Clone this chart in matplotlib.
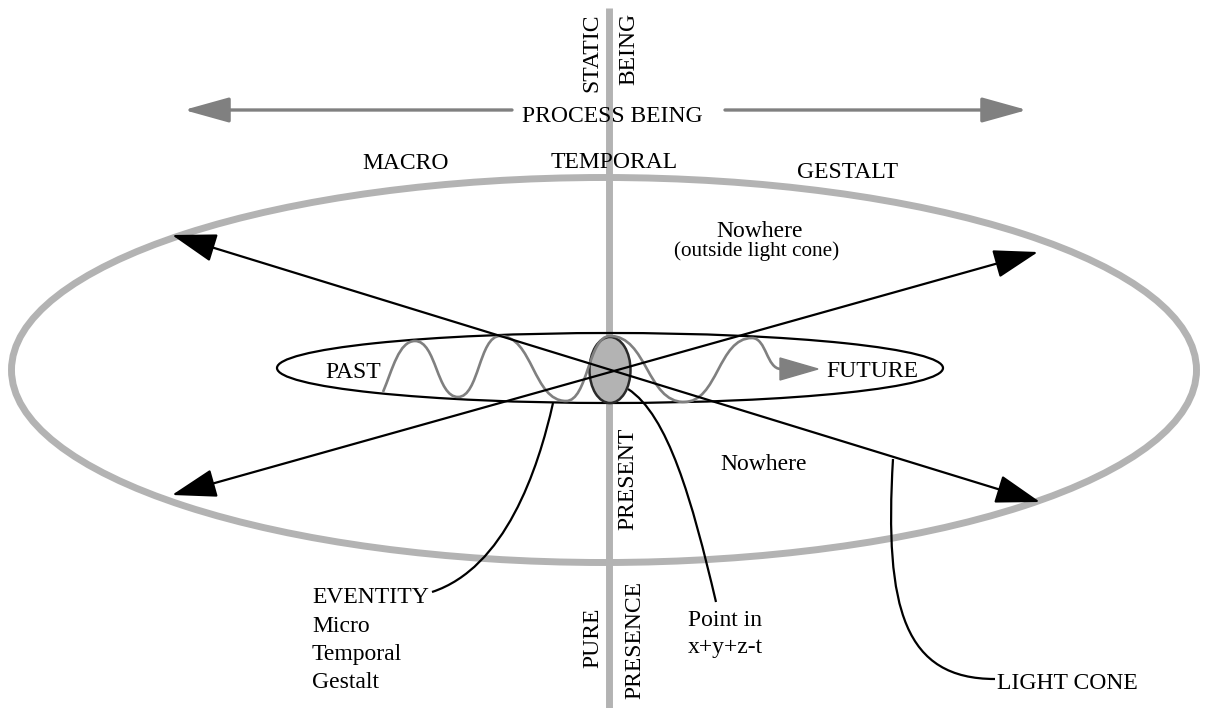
import matplotlib
matplotlib.use("Agg")
import matplotlib.pyplot as plt
from matplotlib.patches import Ellipse, FancyArrowPatch, Polygon, PathPatch
from matplotlib.path import Path

plt.rcParams['font.family'] = ['Liberation Serif', 'DejaVu Serif']

# ---- diagram geometry (pixel space, y downward) ----
axis_x = 609
axis_y = [8, 708]
big_ellipse = dict(center=(604, 370), width=1185, height=385)
small_ellipse = dict(center=(610, 368), width=666, height=70)
present_blob = dict(center=(610, 370), width=41, height=66)

process_arrow_left = [(512, 110), (184, 110)]
process_arrow_right = [(725, 110), (1027, 110)]

cone_arrow_1 = [(172, 235), (1040, 502)]
cone_arrow_2 = [(172, 495), (1038, 252)]

# wave extremum points (x, y) between PAST and FUTURE
wave_start = (383, 392)
wave_x = [415, 458, 500, 566, 610, 684, 752, 781]
wave_y = [341, 397, 336, 401, 336, 402, 338, 369]
wave_head = [(780, 358), (780, 380), (818, 369)]

leader_eventity = [(432, 592), (505, 568), (538, 470), (553, 403)]
leader_point = [(628, 389), (668, 415), (692, 500), (716, 602)]
leader_cone = [(893, 459), (884, 610), (905, 679), (995, 679)]

# text, x, y(baseline or centre), rotation, ha, size
labels = [
    ("STATIC", 592, 53, 90, "center", 17),
    ("BEING", 629, 49, 90, "center", 17),
    ("PROCESS BEING", 612, 122, 0, "center", 17),
    ("MACRO", 406, 169, 0, "center", 17),
    ("TEMPORAL", 614, 168, 0, "center", 17),
    ("GESTALT", 848, 178, 0, "center", 17),
    ("Nowhere", 760, 237, 0, "center", 17),
    ("(outside light cone)", 757, 256, 0, "center", 15.3),
    ("PAST", 353, 378, 0, "center", 17),
    ("FUTURE", 872, 377, 0, "center", 17),
    ("PRESENT", 628, 479, 90, "center", 17),
    ("Nowhere", 764, 470, 0, "center", 17),
    ("EVENTITY", 312, 603, 0, "left", 17),
    ("Micro", 312, 632, 0, "left", 17),
    ("Temporal", 312, 660, 0, "left", 17),
    ("Gestalt", 312, 688, 0, "left", 17),
    ("PURE", 593, 638, 90, "center", 17),
    ("PRESENCE", 635, 640, 90, "center", 17),
    ("Point in", 688, 626, 0, "left", 17),
    ("x+y+z-t", 688, 653, 0, "left", 17),
    ("LIGHT CONE", 997, 689, 0, "left", 17),
]

LIGHT = "#b3b3b3"
MID = "#808080"

fig = plt.figure(figsize=(12.07, 7.08), dpi=100)
ax = fig.add_axes([0, 0, 1, 1])
ax.set_xlim(0, 1207)
ax.set_ylim(708, 0)
ax.axis("off")

# vertical axis
ax.plot([axis_x, axis_x], axis_y, color=LIGHT, lw=5, solid_capstyle="butt", zorder=1)

# big light-cone ellipse
ax.add_patch(Ellipse(big_ellipse["center"], big_ellipse["width"], big_ellipse["height"],
                     fill=False, edgecolor=LIGHT, lw=5, zorder=2))

# small ellipse
ax.add_patch(Ellipse(small_ellipse["center"], small_ellipse["width"], small_ellipse["height"],
                     fill=False, edgecolor="black", lw=1.6, zorder=3))

# process being arrows
for seg in (process_arrow_left, process_arrow_right):
    ax.add_patch(FancyArrowPatch(seg[0], seg[1], arrowstyle="-|>,head_length=28,head_width=7.8",
                                 mutation_scale=1, color=MID, lw=2.4, shrinkA=0, shrinkB=0,
                                 zorder=3))

# present blob
ax.add_patch(Ellipse(present_blob["center"], present_blob["width"], present_blob["height"],
                     facecolor="#b3b3b3", edgecolor="#2a2a2a", lw=1.8, zorder=4))

# wave (drawn over the blob)
verts = [wave_start]
codes = [Path.MOVETO]
px, py = wave_start
first = True
for x, y in zip(wave_x, wave_y):
    dx = x - px
    if first:
        c1 = (px + 0.3 * dx, py - 0.45 * (py - y))
        first = False
    else:
        c1 = (px + 0.5 * dx, py)
    c2 = (x - 0.5 * dx, y)
    verts += [c1, c2, (x, y)]
    codes += [Path.CURVE4] * 3
    px, py = x, y
ax.add_patch(PathPatch(Path(verts, codes), fill=False, edgecolor=MID, lw=1.9, zorder=5))
ax.add_patch(Polygon(wave_head, closed=True, facecolor=MID, edgecolor=MID, lw=1, zorder=5))

# light cone arrows
for seg in (cone_arrow_1, cone_arrow_2):
    ax.add_patch(FancyArrowPatch(seg[0], seg[1], arrowstyle="<|-|>,head_length=28,head_width=9",
                                 mutation_scale=1, color="black", lw=1.6, shrinkA=0, shrinkB=0,
                                 zorder=6))

# leader curves
for pts in (leader_eventity, leader_point, leader_cone):
    ax.add_patch(PathPatch(Path(pts, [Path.MOVETO, Path.CURVE4, Path.CURVE4, Path.CURVE4]),
                           fill=False, edgecolor="black", lw=1.6, zorder=6))

for text, x, y, rot, ha, size in labels:
    va = "center" if rot else "baseline"
    ax.text(x, y, text, rotation=rot, ha=ha, va=va, fontsize=size, color="black", zorder=7)

fig.savefig("out.png", dpi=100, facecolor="white")
